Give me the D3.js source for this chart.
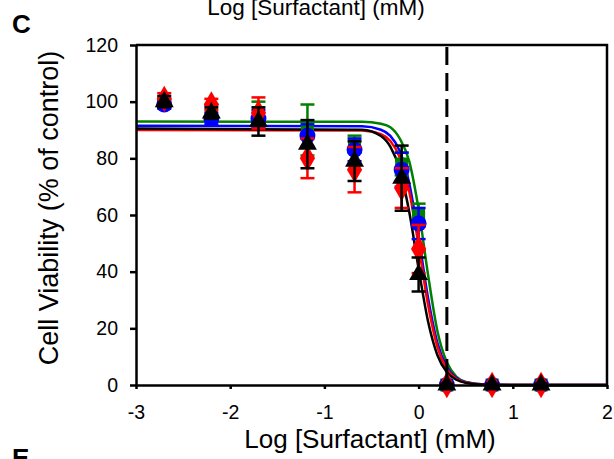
<!DOCTYPE html>
<html>
<head>
<meta charset="utf-8">
<script src="https://cdn.jsdelivr.net/npm/d3@7"></script>
<style>
  body { margin: 0; background: #fff; }
  text { font-family: "Liberation Sans", Arial, sans-serif; fill: #000; }
</style>
</head>
<body>
<div id="vis-container"></div>
<script>
// measured log concentrations
const logConc = [-2.7, -2.2, -1.7, -1.18, -0.68, -0.18, 0, 0.3, 0.78, 1.3];

// cell viability means and SDs (% of control)
const blueMean  = [99, 94, 94, 88, 83, 76, 57, 0, 0, 0];
const blueSd    = [1.5, 2, 3, 4, 4, 6, 5.5, 0.5, 0.5, 0.5];
const greenMean = [100, 97, 96, 90, 85, 78, 60, 0, 0, 0];
const greenSd   = [1, 2, 4, 9, 3, 4, 4, 0.5, 0.5, 0.5];
const redMean   = [101, 99, 96, 80, 76, 69.5, 48, 0, 0, 0];
const redSd     = [2, 2, 5.5, 7, 8, 7, 8.5, 0.5, 0.5, 0.5];
const blackMean = [100, 96, 93, 85, 79, 73, 39, 0, 0, 0];
const blackSd   = [2, 2, 5, 8.5, 7, 11.5, 6, 0.5, 0.5, 0.5];

// fitted curves
const curveX     = [-3, -0.6, -0.4, -0.3, -0.2, -0.1, 0, 0.1, 0.2, 0.3, 0.4, 0.5, 0.7, 1, 2];
const blueCurve  = [91.5, 91.3, 90.1, 87.9, 82.6, 71.3, 52.3, 30.8, 14.8, 6.3, 2.5, 0.96, 0.14, 0, 0];
const greenCurve = [93, 92.9, 92.2, 91, 87, 79, 62, 39, 19, 8, 3, 1.1, 0.15, 0, 0];
const redCurve   = [90, 89.8, 88.5, 86.1, 80.4, 68.5, 49.3, 28.4, 13.4, 5.6, 2.2, 0.86, 0.13, 0, 0];
const blackCurve = [90.5, 90.1, 87.9, 84.1, 76.0, 61.2, 41.1, 22.5, 10.5, 4.5, 1.85, 0.75, 0.12, 0, 0];

const cutoffLog = 0.3;
const xTicks = [-3, -2, -1, 0, 1, 2];
const yTicks = [0, 20, 40, 60, 80, 100, 120];

const width = 614;
const height = 459;

const xScale = d3.scaleLinear().domain([-3, 2]).range([136, 607]);
const yScale = d3.scaleLinear().domain([0, 120]).range([385, 45]);

const svg = d3.select('#vis-container').append('svg')
      .attr('width', width)
      .attr('height', height);

// panel labels and the cut-off title of the panel above
svg.append('text').attr('x', 12).attr('y', 33)
  .style('font-size', '26px').style('font-weight', 'bold').text('C');
svg.append('text').attr('x', 12).attr('y', 467)
  .style('font-size', '26px').style('font-weight', 'bold').text('E');
svg.append('text').attr('x', 316).attr('y', 15)
  .attr('text-anchor', 'middle').style('font-size', '22.5px')
  .text('Log [Surfactant] (mM)');

const series = [
  { mean: greenMean, sd: greenSd, curve: greenCurve, color: '#008000', shape: d3.symbolSquare, size: 170 },
  { mean: blueMean, sd: blueSd, curve: blueCurve, color: '#0000ff', shape: d3.symbolCircle, size: 200 },
  { mean: redMean, sd: redSd, curve: redCurve, color: '#ff0000', shape: d3.symbolDiamond, size: 200 },
  { mean: blackMean, sd: blackSd, curve: blackCurve, color: '#000000', shape: d3.symbolTriangle, size: 155 }
];

const line = d3.line()
    .x((d, i) => xScale(curveX[i]))
    .y(d => yScale(d))
    .curve(d3.curveMonotoneX);

// fitted curves
series.forEach(function (s) {
  svg.append('path')
    .datum(s.curve)
    .attr('fill', 'none')
    .attr('stroke', s.color)
    .attr('stroke-width', 2.5)
    .attr('d', line);
});

// error bars and markers
series.forEach(function (s) {
  const g = svg.append('g');
  logConc.forEach(function (x, i) {
    const cx = xScale(x);
    const yTop = yScale(s.mean[i] + s.sd[i]);
    const yBot = yScale(Math.max(0, s.mean[i] - s.sd[i]));
    g.append('line').attr('x1', cx).attr('x2', cx).attr('y1', yTop).attr('y2', yBot)
      .attr('stroke', s.color).attr('stroke-width', 2.5);
    [yTop, yBot].forEach(function (yy) {
      g.append('line').attr('x1', cx - 7).attr('x2', cx + 7).attr('y1', yy).attr('y2', yy)
        .attr('stroke', s.color).attr('stroke-width', 2.5);
    });
    g.append('path')
      .attr('d', d3.symbol().type(s.shape).size(s.size)())
      .attr('transform', `translate(${cx},${yScale(s.mean[i])})`)
      .attr('fill', s.color);
  });
});

// dashed cut-off line
svg.append('line')
  .attr('x1', xScale(cutoffLog)).attr('x2', xScale(cutoffLog))
  .attr('y1', yScale(120) + 2).attr('y2', yScale(0))
  .attr('stroke', '#000').attr('stroke-width', 3)
  .attr('stroke-dasharray', '18,8');

// frame top and right
svg.append('path')
  .attr('d', `M${xScale(-3)},${yScale(120)}H${xScale(2)}V${yScale(0)}`)
  .attr('fill', 'none').attr('stroke', '#000').attr('stroke-width', 2.5);

// axes
const yAxisG = svg.append('g').attr('transform', `translate(${xScale(-3)},0)`)
  .call(d3.axisLeft(yScale).tickValues(yTicks).tickSize(6).tickSizeOuter(0).tickPadding(12));
const xAxisG = svg.append('g').attr('transform', `translate(0,${yScale(0)})`)
  .call(d3.axisBottom(xScale).tickValues(xTicks).tickSize(4).tickSizeOuter(0).tickPadding(16)
    .tickFormat(d3.format('d')));

[yAxisG, xAxisG].forEach(function (a) {
  a.select('.domain').attr('stroke-width', 2.5);
  a.selectAll('.tick line').attr('stroke-width', 2.5);
  a.selectAll('.tick text').style('font-size', '19.5px')
    .style('font-family', '"Liberation Sans", Arial, sans-serif');
});
xAxisG.selectAll('.tick text').text(d => d < 0 ? '-' + Math.abs(d) : d);

// axis titles
svg.append('text').attr('x', 370).attr('y', 448)
  .attr('text-anchor', 'middle').style('font-size', '26px')
  .text('Log [Surfactant] (mM)');
svg.append('text')
  .attr('transform', 'translate(58,208) rotate(-90)')
  .attr('text-anchor', 'middle').style('font-size', '27px')
  .text('Cell Viability (% of control)');
</script>
</body>
</html>
